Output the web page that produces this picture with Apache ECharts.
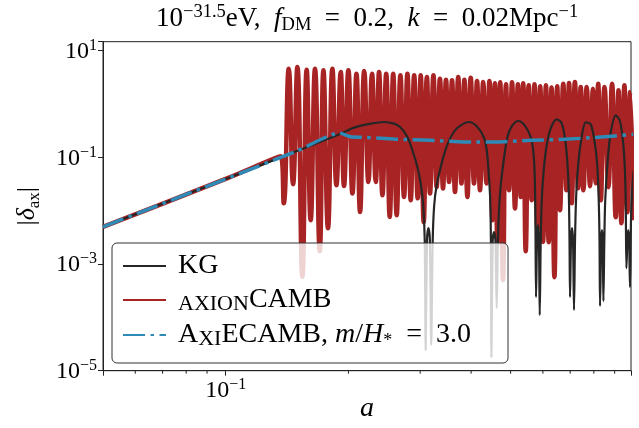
<!DOCTYPE html>
<html><head><meta charset="utf-8">
<script src="https://cdn.jsdelivr.net/npm/echarts@6/dist/echarts.min.js"></script>
<style>html,body{margin:0;padding:0;background:#fff}#c{width:639px;height:428px}</style>
</head><body><div id="c"></div>
<script>
// ---- axis ranges & ticks ----
const xMin = 0.05, xMax = 0.987;
const yMin = 1e-5, yMax = 14.74;
const xMinorTicks = [0.06, 0.07, 0.08, 0.09, 0.2, 0.3, 0.4, 0.5, 0.6, 0.7, 0.8, 0.9];

// ---- axionCAMB (red): alternating dips / peaks ----
const redA = [0.05, 0.1, 0.1364,
  0.1388, 0.1428, 0.1463, 0.1499, 0.1542, 0.1580, 0.1616, 0.1656, 0.1701, 0.1737,
  0.1782, 0.1827, 0.1869, 0.1915, 0.1951, 0.2000, 0.2046, 0.2093, 0.2136, 0.2187,
  0.2239, 0.2285, 0.2334, 0.2378, 0.2424, 0.2476, 0.2526, 0.2576, 0.2627, 0.2683,
  0.2738, 0.2791, 0.2844, 0.2900, 0.2958, 0.3009, 0.3060, 0.3116, 0.3171, 0.3233,
  0.3293, 0.3354, 0.3413, 0.3471, 0.3531, 0.3591, 0.3652, 0.3719, 0.3787, 0.3851,
  0.3917, 0.3991, 0.4066, 0.4136, 0.4206, 0.4283, 0.4361, 0.4436, 0.4512, 0.4576,
  0.4641, 0.4715, 0.4790, 0.4872, 0.4955, 0.5040, 0.5126, 0.5211, 0.5294, 0.5369,
  0.5445, 0.5539, 0.5633, 0.5723, 0.5818, 0.5910, 0.6005, 0.6104, 0.6201, 0.6300,
  0.6404, 0.6506, 0.6610, 0.6731, 0.6853, 0.6955, 0.7062, 0.7190, 0.7318, 0.7430,
  0.7544, 0.7686, 0.7831, 0.7960, 0.8087, 0.8202, 0.8319, 0.8500, 0.8687, 0.8866,
  0.9053, 0.9198, 0.9350, 0.9509, 0.9672, 0.9826, 1.002];
const redV = [0.00497, 0.0394, 0.105,
  0.0138, 4.60, 0.0313, 4.93, 0.000576, 4.41, 0.00664, 4.60, 0.00174, 4.28,
  0.0047, 4.60, 0.0300, 3.97, 0.0291, 4.28, 0.0210, 3.71, 0.00949, 4.15,
  0.0346, 3.71, 0.0346, 3.97, 0.0195, 3.71, 0.00765, 3.71, 0.00823, 3.45,
  0.0181, 3.71, 0.0157, 3.45, 0.0171, 3.45, 0.00609, 3.20, 0.0210, 3.45,
  0.0279, 2.99, 0.0260, 2.86, 0.0346, 2.78, 0.0225, 3.20, 0.0323, 2.86,
  0.0181, 3.12, 0.0323, 2.70, 0.0242, 2.58, 0.0323, 2.70, 0.00664, 2.44,
  0.00243, 2.55, 0.000499, 2.34, 0.0242, 2.55, 0.0110, 2.34, 0.0181, 2.44,
  0.00174, 2.24, 0.0157, 2.34, 0.00431, 2.15, 0.00260, 2.24, 0.00257, 2.05,
  0.000568, 2.15, 0.0102, 2.41, 0.0242, 2.47, 0.0138, 2.58, 0.0264, 2.08,
  0.0242, 2.08, 0.0288, 1.94, 0.0327, 2.41, 0.0157, 2.08, 0.0275, 2.41,
  0.00755, 1.81, 0.00583, 2.24, 0.00937, 1.68, 0.00664];

// ---- KG (black) ----
const kgA = [0.05, 0.1, 0.15, 0.1915, 0.2064, 0.2269, 0.2446, 0.2588, 0.2687, 0.2791, 0.2871,
  0.2953, 0.3009, 0.3052, 0.3078, 0.3095, 0.3118, 0.3143, 0.3169, 0.3193, 0.3220,
  0.3247, 0.3293, 0.3369, 0.3485, 0.3626, 0.3772, 0.3953, 0.4129, 0.4295, 0.4369,
  0.4418, 0.4456, 0.4473, 0.4486, 0.4519, 0.4552, 0.4589, 0.4622, 0.4654, 0.4688,
  0.4728, 0.4809, 0.4911, 0.5031, 0.5225, 0.5415, 0.5601, 0.5681, 0.5729, 0.5752,
  0.5772, 0.5804, 0.5834, 0.5867, 0.5894, 0.5927, 0.5961, 0.6028, 0.6131, 0.6271,
  0.6488, 0.6674, 0.6807, 0.6884, 0.6943, 0.6974, 0.6994, 0.7034, 0.7073, 0.7113,
  0.7154, 0.7194, 0.7235, 0.7305, 0.7430, 0.7643, 0.7862, 0.8041, 0.8156, 0.8225,
  0.8262, 0.8286, 0.8342, 0.8375, 0.8413, 0.8446, 0.8490, 0.8533, 0.8654, 0.8802,
  0.9053, 0.9260, 0.9418, 0.9525, 0.9579, 0.9617, 0.9672, 0.9715, 0.9765, 0.9815,
  0.9870, 0.9937, 1.002];
const kgV = [0.00497, 0.0394, 0.1329, 0.2765, 0.3614, 0.4294, 0.4601, 0.4294, 0.3614, 0.2409, 0.1358,
  0.0661, 0.0323, 0.01267, 0.0028, 2.44e-5, 0.0028, 0.0047, 0.0028, 3.03e-5, 0.0028,
  0.01267, 0.0300, 0.0661, 0.1614, 0.2989, 0.3990, 0.4601, 0.3823, 0.2409, 0.1358,
  0.0504, 0.01572, 0.0028, 1.805e-5, 0.0028, 0.00396, 0.0028, 0.000149, 0.0028, 0.01267,
  0.0300, 0.0882, 0.2409, 0.3823, 0.4805, 0.3990, 0.2409, 0.1358, 0.0462, 0.00664,
  0.00024, 0.0028, 0.00535, 0.0028, 0.00011, 0.0028, 0.01572, 0.0573, 0.1685, 0.3506,
  0.5170, 0.4350, 0.2090, 0.0882, 0.0242, 0.0028, 0.00024, 0.0028, 0.0047, 0.0028,
  0.000137, 0.0028, 0.01572, 0.0573, 0.1836, 0.4542, 0.4167, 0.1917, 0.0711, 0.01572,
  0.0028, 0.000163, 0.0028, 0.00431, 0.0028, 0.000202, 0.0028, 0.01572, 0.0882, 0.2951,
  0.6142, 0.4952, 0.2278, 0.0711, 0.01572, 0.000838, 0.0028, 0.00431, 0.0028, 0.000369,
  0.00664, 0.0242, 0.0573];

// ---- AxiECAMB (blue) ----
const blueA = [0.05, 0.1, 0.15, 0.1897, 0.2026, 0.218, 0.240, 0.264, 0.318, 0.384, 0.465, 0.560, 0.675, 0.818, 1.0];
const blueV = [0.00497, 0.0394, 0.1329, 0.2862, 0.2430, 0.2378, 0.2278, 0.2182, 0.2090, 0.1942, 0.1942, 0.2090, 0.2182, 0.2378, 0.2707];

const seriesNames = ['KG', 'axionCAMB', 'AxiECAMB'];

// ---- styling ----
const FONT = 'Liberation Serif';
const RED = '#a82424', BLUE = '#2e8ab6', BLACK = '#262626', AX = '#222';
const zip = (a, v) => a.map((x, i) => [x, v[i]]);
const minus = s => String(s).replace('-', '\u2212');
function powLabel(value) {
  const e = Math.log10(value), r = Math.round(e);
  if (Math.abs(e - r) > 1e-6) return '';
  return '{b|10}{s|' + minus(r) + '}';
}
const richTick = {
  b: { fontFamily: FONT, fontSize: 24, lineHeight: 26, verticalAlign: 'bottom', color: '#000' },
  s: { fontFamily: FONT, fontSize: 16, lineHeight: 14, verticalAlign: 'top', color: '#000' }
};
const legendText = {
  'KG': '{g|}{n|KG}',
  'axionCAMB': '{g|}{sc|AXION}{n|CAMB}',
  'AxiECAMB': '{g|}{n|A}{sc|XI}{n|ECAMB, }{i|m}{n|/}{i|H}{sb|*}{n|  =  3.0}'
};
const legendRich = {
  g: { width: 7 },
  n: { fontFamily: FONT, fontSize: 28, lineHeight: 30, color: '#000' },
  i: { fontFamily: FONT, fontSize: 28, lineHeight: 30, fontStyle: 'italic', color: '#000' },
  sc: { fontFamily: FONT, fontSize: 22, lineHeight: 29, verticalAlign: 'bottom', color: '#000' },
  sb: { fontFamily: FONT, fontSize: 18, lineHeight: 18, verticalAlign: 'bottom', color: '#000' }
};
const titleRich = {
  n: { fontFamily: FONT, fontSize: 27, lineHeight: 32, fontWeight: 'normal', color: '#000' },
  i: { fontFamily: FONT, fontSize: 27, lineHeight: 32, fontWeight: 'normal', fontStyle: 'italic', color: '#000' },
  sp: { fontFamily: FONT, fontSize: 18.5, lineHeight: 17, fontWeight: 'normal', verticalAlign: 'top', color: '#000' },
  sb: { fontFamily: FONT, fontSize: 18.5, lineHeight: 19, fontWeight: 'normal', verticalAlign: 'bottom', color: '#000' }
};

const chart = echarts.init(document.getElementById('c'), null, { renderer: 'canvas' });
chart.setOption({
  animation: false,
  backgroundColor: '#fff',
  title: {
    text: '{n|10}{sp|\u221231.5}{n|eV,  }{i|f}{sb|DM}{n|  =  0.2,  }{i|k}{n|  =  0.02Mpc}{sp|\u22121}',
    left: 156, top: 3, padding: 0,
    textStyle: { fontWeight: 'normal', rich: titleRich }
  },
  grid: { left: 103, right: 8, top: 41.7, bottom: 57.3, show: true, borderColor: AX, borderWidth: 1,
    backgroundColor: 'transparent', containLabel: false, outerBoundsMode: 'none' },
  legend: {
    data: seriesNames, orient: 'vertical', left: 112, top: 243,
    itemWidth: 43, itemHeight: 14, itemGap: 6,
    padding: [9, 37, 13, 10],
    backgroundColor: 'rgba(255,255,255,0.8)', borderColor: '#333', borderWidth: 1, borderRadius: 5,
    selectedMode: false,
    itemStyle: { opacity: 0 },
    formatter: name => legendText[name],
    textStyle: { rich: legendRich }
  },
  xAxis: {
    type: 'log', logBase: 10, min: xMin, max: xMax,
    axisLine: { show: true, onZero: false, lineStyle: { color: AX, width: 1 } },
    axisTick: { show: true, length: 5, lineStyle: { color: AX } },
    axisLabel: { formatter: powLabel, rich: richTick, margin: 6 },
    splitLine: { show: false }, minorTick: { show: false },
    name: '{i|a}', nameLocation: 'middle', nameGap: 24, nameMoveOverlap: false,
    nameTextStyle: { rich: { i: { fontFamily: FONT, fontSize: 28, lineHeight: 28, fontStyle: 'italic', color: '#000' } } }
  },
  yAxis: {
    type: 'log', logBase: 10, min: yMin, max: yMax, interval: 2,
    axisLine: { show: true, onZero: false, lineStyle: { color: AX, width: 1 } },
    axisTick: { show: true, length: 5, lineStyle: { color: AX } },
    axisLabel: { formatter: powLabel, rich: richTick, margin: 6 },
    splitLine: { show: false }, minorTick: { show: false },
    name: '{n||}{i|\u03b4}{sb|ax}{n||}', nameLocation: 'middle', nameGap: 60, nameRotate: 90, nameMoveOverlap: false,
    nameTextStyle: { rich: {
      n: { fontFamily: FONT, fontSize: 26, lineHeight: 32, color: '#000' },
      i: { fontFamily: FONT, fontSize: 26, lineHeight: 32, fontStyle: 'italic', color: '#000' },
      sb: { fontFamily: FONT, fontSize: 17, lineHeight: 18, verticalAlign: 'bottom', color: '#000' }
    } }
  },
  series: [
    { name: 'axionCAMB', type: 'line', data: zip(redA, redV), symbol: 'none', showSymbol: false,
      smooth: 0.5, clip: true, lineStyle: { color: RED, width: 4.5 }, itemStyle: { color: RED }, z: 2 },
    { name: 'KG', type: 'line', data: zip(kgA, kgV), symbol: 'none', showSymbol: false,
      smooth: 0.3, clip: true, lineStyle: { color: BLACK, width: 2.2 }, itemStyle: { color: BLACK }, z: 3 },
    { name: 'AxiECAMB', type: 'line', data: zip(blueA, blueV), symbol: 'none', showSymbol: false,
      smooth: 0.2, clip: true, lineStyle: { color: BLUE, width: 3.5, type: [22, 5.5, 3.5, 5.5], cap: 'butt' },
      itemStyle: { color: BLUE }, z: 4 },
    { name: 'minorTicks', type: 'custom', data: xMinorTicks.map(v => [v, yMin]), encode: { x: 0, y: 1 },
      clip: false, silent: true, z: 6,
      renderItem: (params, api) => {
        const p = api.coord([api.value(0), api.value(1)]);
        return { type: 'line', shape: { x1: p[0], y1: p[1], x2: p[0], y2: p[1] + 3 }, style: { stroke: AX, lineWidth: 1 } };
      } }
  ]
});
</script></body></html>
